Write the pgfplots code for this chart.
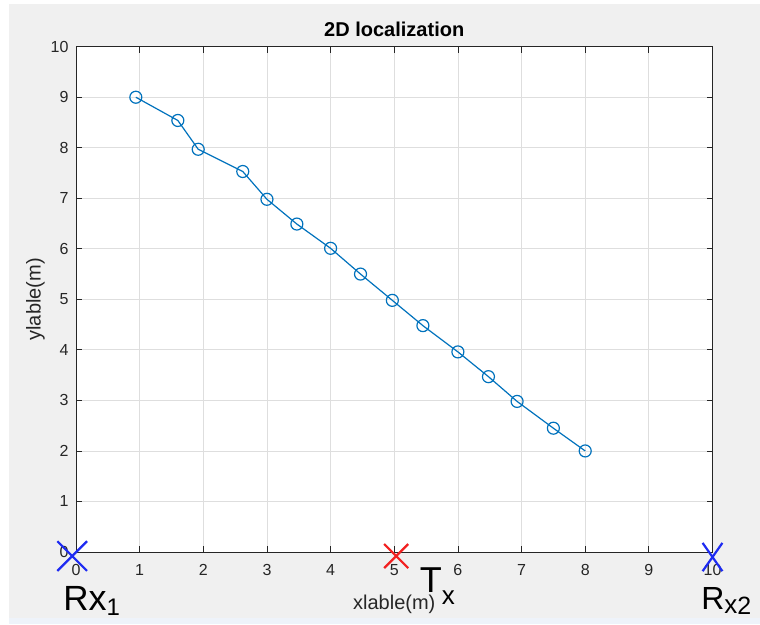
\documentclass[border=0pt]{standalone}
\usepackage{pgfplots}
\pgfplotsset{compat=1.18}
\usepackage{fontspec}
\setmainfont{Liberation Sans}

\definecolor{figbg}{HTML}{F0F0F0}
\definecolor{stripbg}{HTML}{EEF3FA}
\definecolor{mblue}{HTML}{0072BD}
\definecolor{axgray}{HTML}{262626}
\definecolor{gridgray}{HTML}{DEDEDE}
\definecolor{penblue}{HTML}{1E2BF2}
\definecolor{penred}{HTML}{F22020}

\newcommand{\fs}[1]{\fontsize{#1}{#1}\selectfont}

\begin{document}
\begin{tikzpicture}[x=1pt,y=1pt]
% figure background (MATLAB-style window)
\fill[white] (0,0) rectangle (760,624);
\fill[stripbg] (9,0) rectangle (760,6);
\fill[figbg] (9,6) rectangle (760,620);

\begin{axis}[
  at={(76pt,72pt)}, anchor=south west,
  scale only axis, width=636.5pt, height=505.3pt,
  xmin=0, xmax=10, ymin=0, ymax=10,
  xtick={0,...,10}, ytick={0,...,10},
  axis background/.style={fill=white},
  grid=major, grid style={gridgray, line width=0.8pt},
  axis line style={axgray, line width=1pt},
  tick style={axgray, line width=0.8pt},
  tick align=inside, major tick length=6pt,
  /pgf/number format/assume math mode=true,
  ticklabel style={font=\fs{16}, text=axgray},
  xticklabel style={yshift=-9pt},
  yticklabel style={xshift=-4pt},
  title={2D localization},
  title style={font=\bfseries\fs{20}, text=black, yshift=0pt},
  xlabel={xlable(m)},
  ylabel={ylable(m)},
  label style={font=\fs{20}, text=axgray},
  xlabel style={yshift=-12pt},
  ylabel style={yshift=-1pt},
  clip=false,
]
\addplot[mblue, line width=1.2pt, mark=o, mark size=6pt,
  mark options={line width=1.2pt}] coordinates {
  (0.94,9.00) (1.60,8.54) (1.92,7.97) (2.62,7.53) (3.00,6.98)
  (3.47,6.49) (4.00,6.01) (4.47,5.50) (4.97,4.98) (5.45,4.48)
  (6.00,3.96) (6.48,3.47) (6.93,2.98) (7.50,2.45) (8.00,2.00)
};

% hand-drawn receiver / transmitter crosses
\addplot[only marks, penblue, mark=x, mark size=21pt,
  mark options={line width=2.2pt}] coordinates {(-0.06,-0.08)};
\addplot[only marks, penred, mark=x, mark size=17pt,
  mark options={line width=2.2pt}] coordinates {(5.03,-0.08)};
\addplot[only marks, penblue, mark=x, mark size=20pt,
  mark options={line width=2.2pt, xscale=0.7}] coordinates {(10.0,-0.10)};

% hand-written labels
\node[anchor=base west, inner sep=0] at (axis cs:-0.20,-1.15)
  {\fs{35}R\fs{36}x\raisebox{-5pt}{\fs{24}1}};
\node[anchor=base west, inner sep=0] at (axis cs:5.40,-0.81)
  {\fs{36}T\raisebox{-12pt}{\fs{26}x}};
\node[anchor=base west, inner sep=0] at (axis cs:9.82,-1.13)
  {\fs{32}R\raisebox{-4pt}{\fs{26}x}\raisebox{-5pt}{\fs{25}2}};
\end{axis}
\end{tikzpicture}
\end{document}
